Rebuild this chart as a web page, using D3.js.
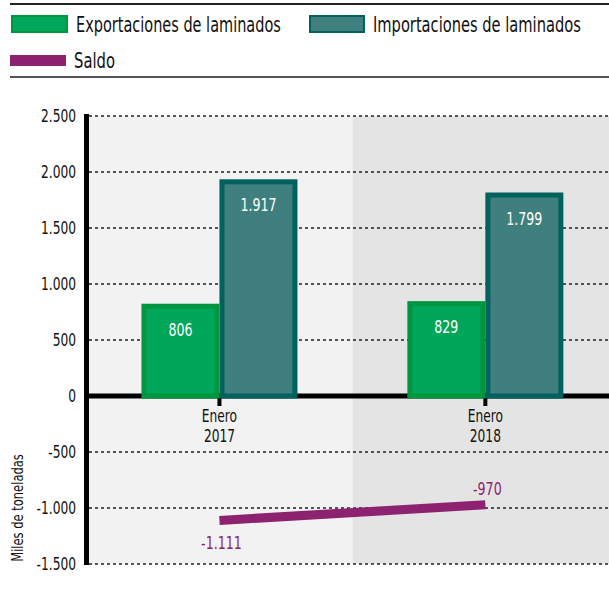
<!DOCTYPE html>
<html lang="es">
<head>
    <meta charset="UTF-8">
    <title>Exportaciones e importaciones de laminados</title>
    <script src="https://d3js.org/d3.v7.min.js"></script>
    <style>
        body { margin: 0; padding: 0; background: #fff; }
        svg { display: block; font-family: 'DejaVu Sans Condensed', 'DejaVu Sans', sans-serif; font-stretch: condensed; }
        .legend-text { font-size: 21px; fill: #111; }
        .tick-text { font-size: 17px; fill: #111; }
        .bar-label { font-size: 18px; fill: #fff; text-anchor: middle; }
        .saldo-label { font-size: 18px; fill: #8c2270; text-anchor: middle; }
        .grid { stroke: #222; stroke-width: 1.5; stroke-dasharray: 3,3; }
    </style>
</head>
<body>
    <svg width="609" height="594"></svg>
    <script>
        const categories = ["Enero 2017", "Enero 2018"];
        const series = ["Exportaciones de laminados", "Importaciones de laminados"];
        const exportaciones = [806, 829];
        const importaciones = [1917, 1799];
        const saldo = [-1111, -970];
        const yTicks = [-1500, -1000, -500, 0, 500, 1000, 1500, 2000, 2500];

        const colors = { fill: ["#00a65a", "#3f7f7d"], stroke: ["#00963f", "#00615e"], saldo: "#8c2270" };
        const fmt = d3.formatLocale({ decimal: ",", thousands: ".", grouping: [3], currency: ["", ""], minus: "-" }).format(",d");

        const svg = d3.select("svg");
        const width = +svg.attr("width");

        // squeeze text horizontally to look like a condensed face
        function squeeze(sel, sx, rot) {
            sel.each(function() {
                const t = d3.select(this);
                const tx = +t.attr("x"), ty = +t.attr("y");
                const f = typeof sx === "function" ? sx(this) : sx;
                t.attr("x", 0).attr("y", 0)
                    .attr("transform", "translate(" + tx + "," + ty + ")" + (rot ? " rotate(" + rot + ")" : "") + " scale(" + f + ",1)");
            });
        }

        const y = d3.scaleLinear().domain([-1500, 2500]).range([564, 116]);
        const x = d3.scaleBand().domain(categories).range([86.5, 618.3]).padding(0);
        const x1 = d3.scaleBand().domain(series)
            .range([x.bandwidth() / 2 - 78, x.bandwidth() / 2 + 78]).padding(0);

        // legend
        svg.append("line").attr("x1", 10).attr("x2", width).attr("y1", 4).attr("y2", 4)
            .attr("stroke", "#222").attr("stroke-width", 2);
        svg.append("line").attr("x1", 10).attr("x2", width).attr("y1", 77).attr("y2", 77)
            .attr("stroke", "#555").attr("stroke-width", 2);

        const legendItems = [
            { label: series[0], x: 11, y: 15, w: 57, h: 18, len: 205, fill: colors.fill[0], stroke: colors.stroke[0] },
            { label: series[1], x: 309, y: 15, w: 56, h: 18, len: 208, fill: colors.fill[1], stroke: colors.stroke[1] },
            { label: "Saldo", x: 10, y: 55, w: 56, h: 11, len: 41, fill: colors.saldo, stroke: colors.saldo }
        ];
        legendItems.forEach(function(d) {
            svg.append("rect")
                .attr("x", d.x + 1).attr("y", d.y + 1)
                .attr("width", d.w - 2).attr("height", d.h - 2)
                .attr("fill", d.fill).attr("stroke", d.stroke).attr("stroke-width", 2);
            svg.append("text")
                .attr("class", "legend-text")
                .attr("x", d.x + d.w + 8)
                .attr("y", d.y + (d.h === 18 ? 17 : 13))
                .text(d.label)
                .call(squeeze, function(node) { return d.len / node.getComputedTextLength(); });
        });

        // panel backgrounds
        svg.selectAll("rect.panel")
            .data(categories)
            .enter()
            .append("rect")
            .attr("class", "panel")
            .attr("x", function(d) { return x(d); })
            .attr("y", y(2500))
            .attr("width", x.bandwidth())
            .attr("height", y(-1500) - y(2500))
            .attr("fill", function(d, i) { return i === 0 ? "#f2f2f2" : "#e4e4e4"; });

        // gridlines
        svg.selectAll("line.grid")
            .data(yTicks.filter(function(d) { return d !== 0; }))
            .enter()
            .append("line")
            .attr("class", "grid")
            .attr("x1", 89).attr("x2", width)
            .attr("y1", function(d) { return y(d); })
            .attr("y2", function(d) { return y(d); });

        // zero line
        svg.append("line")
            .attr("x1", 86).attr("x2", width)
            .attr("y1", y(0)).attr("y2", y(0))
            .attr("stroke", "#000").attr("stroke-width", 5);

        // category ticks
        svg.selectAll("line.ctick")
            .data(categories)
            .enter()
            .append("line")
            .attr("class", "ctick")
            .attr("x1", function(d) { return x(d) + x.bandwidth() / 2; })
            .attr("x2", function(d) { return x(d) + x.bandwidth() / 2; })
            .attr("y1", y(0)).attr("y2", y(0) + 10)
            .attr("stroke", "#000").attr("stroke-width", 4);

        // bars
        const barData = [];
        categories.forEach(function(c, i) {
            barData.push({ cat: c, s: 0, value: exportaciones[i] });
            barData.push({ cat: c, s: 1, value: importaciones[i] });
        });

        svg.selectAll("rect.bar")
            .data(barData)
            .enter()
            .append("rect")
            .attr("class", "bar")
            .attr("x", function(d) { return x(d.cat) + x1(series[d.s]) + 2.5; })
            .attr("y", function(d) { return y(d.value) + 0.5; })
            .attr("width", x1.bandwidth() - 5)
            .attr("height", function(d) { return y(0) - y(d.value) - 0.5; })
            .attr("fill", function(d) { return colors.fill[d.s]; })
            .attr("stroke", function(d) { return colors.stroke[d.s]; })
            .attr("stroke-width", 5);

        svg.selectAll("text.bar-label")
            .data(barData)
            .enter()
            .append("text")
            .attr("class", "bar-label")
            .attr("x", function(d) { return x(d.cat) + x1(series[d.s]) + x1.bandwidth() / 2; })
            .attr("y", function(d) { return y(d.value) + 30; })
            .text(function(d) { return fmt(d.value); })
            .call(squeeze, 0.78);

        // y axis
        svg.append("line")
            .attr("x1", 86.5).attr("x2", 86.5)
            .attr("y1", y(2500) - 2).attr("y2", y(-1500) + 1)
            .attr("stroke", "#000").attr("stroke-width", 5);

        svg.selectAll("text.ytick")
            .data(yTicks)
            .enter()
            .append("text")
            .attr("class", "tick-text")
            .attr("x", 76)
            .attr("y", function(d) { return y(d) + 6; })
            .attr("text-anchor", "end")
            .text(function(d) { return fmt(d); })
            .call(squeeze, 0.8);

        svg.append("text")
            .attr("class", "tick-text")
            .attr("x", 23).attr("y", y(-1000))
            .attr("text-anchor", "middle")
            .style("font-size", "16px")
            .text("Miles de toneladas")
            .call(squeeze, 0.8, -90);

        // category labels
        categories.forEach(function(c) {
            const parts = c.split(" ");
            const cx = x(c) + x.bandwidth() / 2;
            svg.append("text").attr("class", "tick-text").attr("text-anchor", "middle")
                .attr("x", cx).attr("y", y(0) + 26).text(parts[0]).call(squeeze, 0.8);
            svg.append("text").attr("class", "tick-text").attr("text-anchor", "middle")
                .attr("x", cx).attr("y", y(0) + 46).text(parts[1]).call(squeeze, 0.8);
        });

        // saldo line
        const line = d3.line()
            .x(function(d, i) { return x(categories[i]) + x.bandwidth() / 2; })
            .y(function(d) { return y(d); });

        svg.append("path")
            .datum(saldo)
            .attr("d", line)
            .attr("fill", "none")
            .attr("stroke", colors.saldo)
            .attr("stroke-width", 9);

        svg.selectAll("text.saldo-label")
            .data(saldo)
            .enter()
            .append("text")
            .attr("class", "saldo-label")
            .attr("x", function(d, i) { return x(categories[i]) + x.bandwidth() / 2 + 2; })
            .attr("y", function(d, i) { return i === 0 ? y(d) + 29 : y(d) - 10; })
            .text(function(d) { return fmt(d); })
            .call(squeeze, 0.78);
    </script>
</body>
</html>
